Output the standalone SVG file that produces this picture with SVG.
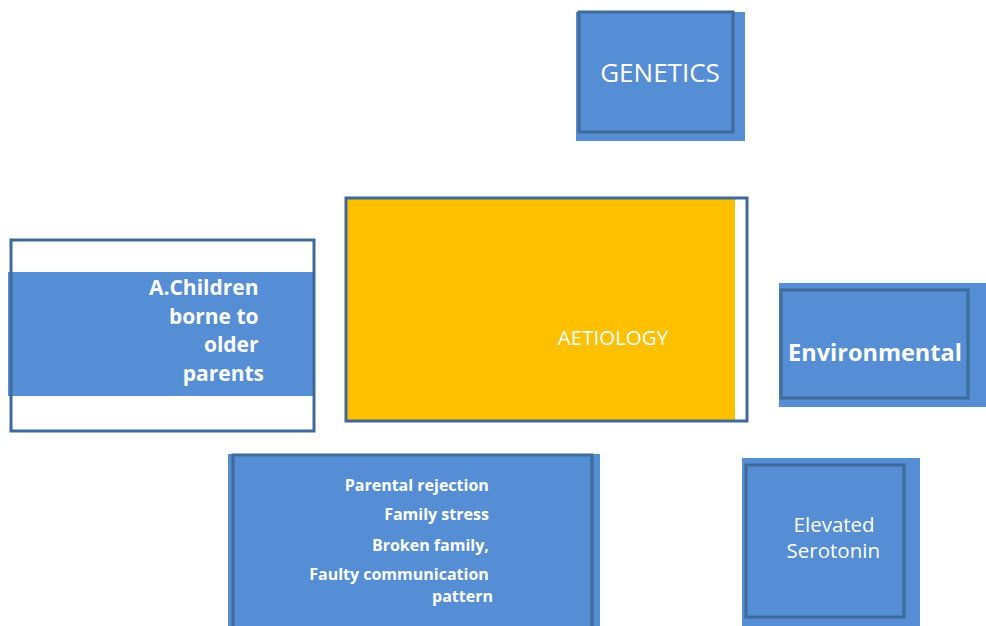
<svg xmlns="http://www.w3.org/2000/svg" width="986" height="626" viewBox="0 0 986 626">
<style>
.fill{fill:#558ED5;}
.box{fill:none;stroke:#3F6A98;stroke-width:3;}
.t{fill:#ffffff;font-family:"Open Sans","Liberation Sans",sans-serif;}
.b{font-weight:bold;}
</style>
<rect width="986" height="626" fill="#ffffff"/>
<g id="connectors"></g>
<g id="genetics">
<rect class="fill" x="576" y="12" width="169" height="129"/>
<rect class="box" x="579" y="12" width="154" height="120"/>
<text class="t" x="660" y="82" font-size="26" text-anchor="middle">GENETICS</text>
</g>
<g id="aetiology">
<rect x="347" y="198" width="388" height="223" fill="#FFC000"/>
<rect class="box" x="346" y="198" width="401" height="223" stroke-width="2.5"/>
<text class="t" x="613" y="345" font-size="20.5" text-anchor="middle">AETIOLOGY</text>
</g>
<g id="older-parents">
<rect class="fill" x="8" y="272" width="306" height="124"/>
<rect class="box" x="11" y="240" width="303" height="191" stroke-width="2.5"/>
<text class="t b" font-size="21" text-anchor="end">
<tspan x="264" y="295">A.Children</tspan>
<tspan x="264" y="324">borne to</tspan>
<tspan x="264" y="352">older</tspan>
<tspan x="264" y="381">parents</tspan>
</text>
</g>
<g id="environmental">
<rect class="fill" x="779" y="283" width="207" height="124"/>
<rect class="box" x="781" y="290" width="187" height="108"/>
<text class="t b" x="875" y="361" font-size="23.5" text-anchor="middle">Environmental</text>
</g>
<g id="family">
<rect class="fill" x="228" y="454" width="372" height="172"/>
<rect class="box" x="233" y="455" width="359" height="180"/>
<text class="t b" font-size="16" text-anchor="end">
<tspan x="493" y="491">Parental rejection</tspan>
<tspan x="493" y="520">Family stress</tspan>
<tspan x="493" y="551">Broken family,</tspan>
<tspan x="493" y="580">Faulty communication</tspan>
<tspan x="493" y="602">pattern</tspan>
</text>
</g>
<g id="serotonin">
<rect class="fill" x="742" y="458" width="178" height="168"/>
<rect class="box" x="746" y="465" width="158" height="152"/>
<text class="t" font-size="20.5" text-anchor="end">
<tspan x="880" y="532">Elevated</tspan>
<tspan x="880" y="558">Serotonin</tspan>
</text>
</g>
</svg>
